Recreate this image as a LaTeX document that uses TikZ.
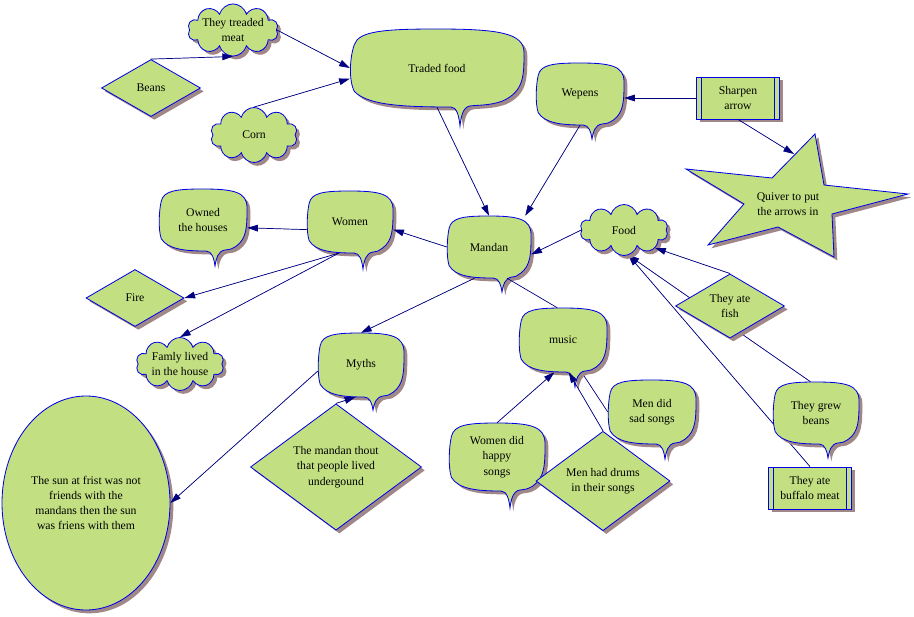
\documentclass[tikz,border=0pt]{standalone}
\usepackage{fontspec}
\setmainfont{Liberation Serif}
\usetikzlibrary{shapes.geometric, shapes.symbols, arrows.meta, shadows, backgrounds}
\definecolor{leaf}{RGB}{194,224,130}
\definecolor{rim}{RGB}{0,0,230}
\definecolor{ink}{RGB}{0,0,128}
\definecolor{dusk}{RGB}{160,136,136}
\tikzset{
  txt/.style = {inner sep=0pt, align=center, font=\fontsize{10}{13}\selectfont},
  dshadow/.style = {drop shadow={shadow xshift=0.1cm, shadow yshift=-0.1cm, fill=dusk, opacity=1}},
  bubble/.style = {draw=rim, fill=leaf, line width=0.7pt, dshadow},
  puff/.style = {cloud, cloud puffs=10, cloud ignores aspect, draw=rim, fill=leaf, line width=0.7pt, dshadow, txt},
  rhomb/.style = {diamond, draw=rim, fill=leaf, line width=0.7pt, dshadow, txt},
  oval/.style = {ellipse, draw=rim, fill=leaf, line width=0.7pt, dshadow, txt},
  procbox/.style = {rectangle, draw=rim, fill=leaf, line width=0.7pt, dshadow, txt,
    minimum width=2.47cm, minimum height=1.26cm,
    path picture={
      \draw[rim, line width=0.7pt] ([xshift=0.15cm]path picture bounding box.north west) -- ([xshift=0.15cm]path picture bounding box.south west);
      \draw[rim, line width=0.7pt] ([xshift=-0.15cm]path picture bounding box.north east) -- ([xshift=-0.15cm]path picture bounding box.south east);}},
  link/.style = {-{Triangle[length=0.32cm, width=0.2cm]}, draw=ink, fill=ink, line width=0.6pt},
  plain/.style = {draw=ink, line width=0.6pt}
}
% speech bubble: name, x, y, half width, half height, tail offset, tail length, text
\newcommand{\talk}[8]{%
  \filldraw[bubble, shift={(#2,#3)}]
    (0,-#5) .. controls ({0.7*#4},-#5) and (#4,{-0.9*#5}) .. (#4,{-0.4*#5})
    .. controls (#4,{0.2*#5}) and (#4,{0.6*#5}) .. ({0.75*#4},{0.85*#5})
    .. controls ({0.6*#4},{0.97*#5}) and ({#6+16},{#5-2}) .. ({#6+10},{#5-1})
    .. controls ({#6+3},#5) and ({#6+1},{#5+0.5*#7}) .. (#6,{#5+#7})
    .. controls ({#6-1},{#5+0.5*#7}) and ({#6-3},#5) .. ({#6-9},#5)
    .. controls ({-0.4*#4},#5) and ({-0.8*#4},{0.95*#5}) .. ({-0.95*#4},{0.6*#5})
    .. controls ({-1.02*#4},{0.3*#5}) and (-#4,{-0.3*#5}) .. ({-0.95*#4},{-0.6*#5})
    .. controls ({-0.9*#4},{-0.95*#5}) and ({-0.6*#4},-#5) .. (0,-#5) -- cycle;
  \node[txt, minimum width={0.06cm*#4}, minimum height={0.06cm*#5}] (#1) at (#2,#3) {#8};}

\begin{document}
\begin{tikzpicture}[x=0.03cm, y=-0.03cm]
\useasboundingbox (0,0) rectangle (914,617);

% speech bubbles
\talk{tradedfood}{437}{68}{87}{39}{23}{19}{Traded food}
\talk{wepens}{580}{94}{44}{31}{12}{14}{Wepens}
\talk{women}{350}{222}{43}{31}{13}{16}{Women}
\talk{owned}{203}{220}{44}{31}{12}{15}{Owned\\the houses}
\talk{mandan}{489}{247}{42}{31}{13}{14}{Mandan}
\talk{myths}{361}{365}{43}{32}{12}{13}{Myths}
\talk{music}{563}{340}{44}{32}{12}{15}{music}
\talk{mensad}{652}{412}{44}{32}{13}{15}{Men did\\sad songs}
\talk{grewbeans}{816}{413}{43}{31}{12}{14}{They grew\\beans}
\talk{womenhappy}{497}{457}{48}{34}{13}{17}{Women did\\happy\\songs}

% clouds
\node[puff, minimum width=2.64cm, minimum height=1.53cm] (treaded) at (233,30) {They treaded\\meat};
\node[puff, minimum width=2.61cm, minimum height=1.65cm] (corn) at (254,135) {Corn};
\node[puff, minimum width=2.64cm, minimum height=1.53cm] (food) at (624,230) {Food};
\node[puff, minimum width=2.64cm, minimum height=1.59cm] (famly) at (180,364) {Famly lived\\in the house};

% diamonds
\node[rhomb, minimum width=2.97cm, minimum height=1.71cm] (beans) at (151,88) {Beans};
\node[rhomb, minimum width=2.94cm, minimum height=1.71cm] (fire) at (135,298) {Fire};
\node[rhomb, minimum width=3.27cm, minimum height=1.83cm] (fish) at (730,306) {They ate\\fish};
\node[rhomb, minimum width=4.02cm, minimum height=2.31cm] (drums) at (603,481) {Men had drums\\in their songs};
\node[rhomb, minimum width=5.13cm, minimum height=2.97cm] (thout) at (336,467) {The mandan thout\\that people lived\\undergound};

% boxes
\node[procbox] (sharpen) at (738,98) {Sharpen\\arrow};
\node[procbox] (buffalo) at (810,488) {They ate\\buffalo meat};

% ellipse
\node[oval, minimum width=5.04cm, minimum height=6.42cm] (sun) at (86,503) {The sun at frist was not\\friends with the\\mandans then the sun\\was friens with them};

% star
\filldraw[bubble] (815,134) -- (824,185) -- (908,194) -- (832,214) -- (834,257) -- (778,227) -- (708,245) -- (744,204) -- (686,169) -- (772,178) -- cycle;
\node[txt] (quiver) at (788,204) {Quiver to put\\the arrows in};
\coordinate (quiverin) at (794,154);

% connectors
\draw[link] (beans.north) -- (treaded.south);
\draw[link] (treaded.east) -- (tradedfood.west);
\draw[link] (corn.north) -- (tradedfood.187);
\draw[link] (tradedfood.south) -- (mandan.north);
\draw[link] (wepens.south) -- ([xshift=-0.18cm]mandan.north east);
\draw[link] (sharpen.west) -- (sharpen.west -| wepens.east);
\draw[link] (sharpen.south) -- (quiverin);
\draw[link] (mandan.west) -- (women.-10);
\draw[link] (women.190) -- (owned.-10);
\draw[link] (women.250) -- (fire.east);
\draw[link] (women.250) -- (famly.north);
\draw[link] (mandan.245) -- (myths.north);
\draw[plain] (mandan.-60) -- (music.100);
\draw[link] (food.west) -- (mandan.-10);
\draw[link] (fish.north) -- (food.-30);
\draw[link] (myths.188) -- (sun.east);
\draw[link] (thout.north) -- (myths.-100);
\draw[link] (womenhappy.north) -- (music.-105);
\draw[link] (drums.north) -- (music.-80);
\begin{scope}[on background layer]
\draw[link] (grewbeans.100) -- (food.-80);
\draw[link] (buffalo.north) -- (food.-80);
\draw[plain] (mensad.west) -- (music.-60);
\end{scope}

\end{tikzpicture}
\end{document}
